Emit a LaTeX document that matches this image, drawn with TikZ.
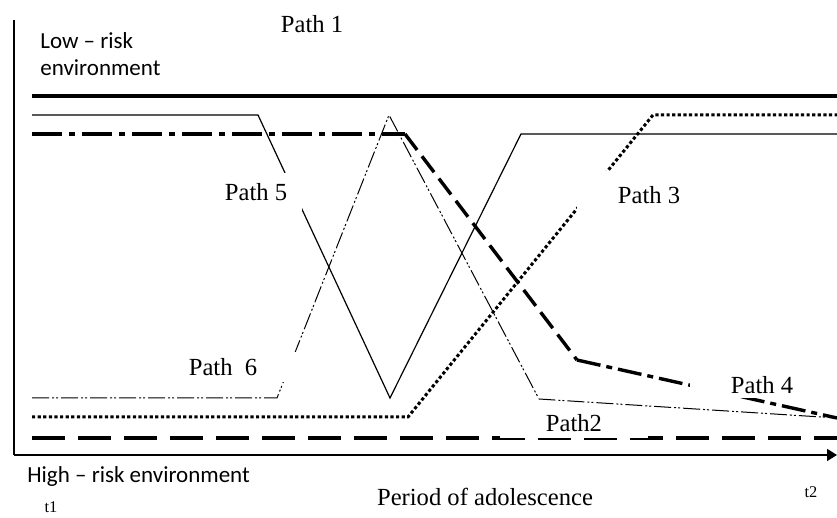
\documentclass[tikz,border=0pt]{standalone}
\usepackage{fontspec}
\setmainfont{Liberation Serif}
\newfontfamily\envfont{Carlito}
\usetikzlibrary{arrows.meta}

\tikzset{
  pathlabel/.style={font=\fontsize{12.3}{14}\selectfont, fill=white, inner sep=0pt},
  envlabel/.style={font=\envfont\fontsize{11.5}{13.5}\selectfont, align=left, inner sep=0pt},
  timelabel/.style={font=\fontsize{8.2}{9}\selectfont, inner sep=0pt},
  axis/.style={line width=0.8pt},
  path one/.style={line width=2pt},
  path two/.style={line width=1.7pt, dash pattern=on 16.5pt off 6.5pt},
  path three/.style={line width=1.5pt, dash pattern=on 1.6pt off 1.2pt},
  path four/.style={line width=1.7pt, dash pattern=on 15pt off 3.5pt on 3pt off 3.5pt},
  path five/.style={line width=0.6pt},
  path six/.style={line width=0.5pt, dash pattern=on 8.5pt off 1.5pt on 1pt off 1pt on 1pt off 1.5pt},
}

\begin{document}
\begin{tikzpicture}[x=0.5pt,y=-0.5pt]
    \useasboundingbox (0,0) rectangle (837,518);
    \coordinate (origin) at (14,455);
    \coordinate (top) at (14,20);
    \coordinate (end) at (837,455);
    \draw [axis] (origin) -- (top);% risk axis
    \draw [axis,-{Triangle[length=5pt,width=6pt]}] (origin) -- (end);% time axis
    % the six paths
    \draw [path one] (32,96) -- (837,96);
    \draw [path two] (32,438) -- (837,438);
    \draw [path three] (32,417) -- (408,417) -- (653,115) -- (837,115);
    \draw [path four] (32,134) -- (405,134);
    \draw [path four, dash pattern=on 10pt off 4pt] (405,134) -- (577,360);
    \draw [path four, dash pattern=on 12pt off 3pt on 3pt off 3pt] (577,360) -- (837,418);
    \draw [path five] (32,115) -- (258,115) -- (390,398) -- (521,134) -- (837,134);
    \draw [path six] (32,398) -- (277,398) -- (389,115) -- (539,399) -- (837,418);
    % labels, boxed in white over the lines
    \node [pathlabel, fill=none, anchor=base] (l1) at (312,33) {Path 1};
    \node [pathlabel, minimum width=46pt, minimum height=19pt] (l5) at (256,192) {Path 5};
    \node [pathlabel, minimum width=76pt, minimum height=15pt] (l6) at (223,367) {Path\ \ 6};
    \node [pathlabel, minimum width=72pt, minimum height=24pt] (l3) at (649,195) {Path 3};
    \node [pathlabel, minimum width=72pt, minimum height=13pt] (l4) at (762,385) {Path 4};
    \node [pathlabel, minimum width=74pt, minimum height=15pt] (l2) at (574,423) {Path2};
    \node [envlabel, anchor=north west] (low) at (40,32) {Low \textendash{} risk\\environment};
    \node [envlabel, anchor=base west] (high) at (27,483) {High \textendash{} risk environment};
    \node [pathlabel, fill=none, anchor=base] (period) at (485,506) {Period of adolescence};
    \node [timelabel, anchor=base] (t1) at (51,513) {t1};
    \node [timelabel, anchor=base] (t2) at (811,498) {t2};
\end{tikzpicture}
\end{document}
